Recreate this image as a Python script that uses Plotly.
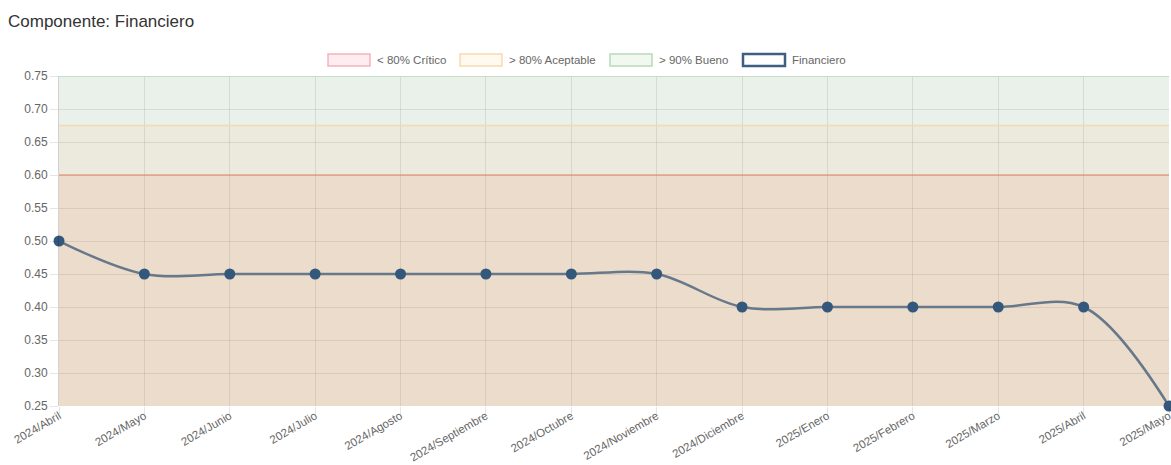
import plotly.graph_objects as go

categories = ["2024/Abril", "2024/Mayo", "2024/Junio", "2024/Julio", "2024/Agosto",
              "2024/Septiembre", "2024/Octubre", "2024/Noviembre", "2024/Diciembre",
              "2025/Enero", "2025/Febrero", "2025/Marzo", "2025/Abril", "2025/Mayo"]
financiero = [0.50, 0.45, 0.45, 0.45, 0.45, 0.45, 0.45, 0.45, 0.40, 0.40, 0.40, 0.40, 0.40, 0.25]
critico = [0.60] * len(categories)
aceptable = [0.675] * len(categories)
bueno = [0.75] * len(categories)
y_ticks = [0.25, 0.30, 0.35, 0.40, 0.45, 0.50, 0.55, 0.60, 0.65, 0.70, 0.75]

W, H = 1171, 465
L, R, T, B = 59, 2, 76, 465 - 406
FONT = "Liberation Sans, Arial, sans-serif"

fig = go.Figure()
fig.add_trace(go.Scatter(x=categories, y=critico, mode="lines", fill="tozeroy",
                         fillcolor="rgba(192,138,82,0.30)",
                         line=dict(color="rgba(225,140,115,0.75)", width=1.5),
                         showlegend=False, hoverinfo="skip"))
fig.add_trace(go.Scatter(x=categories, y=aceptable, mode="lines", fill="tonexty",
                         fillcolor="rgba(175,171,115,0.25)",
                         line=dict(color="rgba(245,215,170,0.9)", width=1.5),
                         showlegend=False, hoverinfo="skip"))
fig.add_trace(go.Scatter(x=categories, y=bueno, mode="lines", fill="tonexty",
                         fillcolor="rgba(150,185,150,0.20)",
                         line=dict(color="rgba(180,215,180,0.9)", width=1.5),
                         showlegend=False, hoverinfo="skip"))
fig.add_trace(go.Scatter(x=categories, y=financiero, mode="lines+markers",
                         line=dict(color="#66788a", width=2.5, shape="spline", smoothing=1.0),
                         marker=dict(color="#34587c", size=11),
                         cliponaxis=False, showlegend=False))

def px(x):
    return (x - L) / (W - L - R)

def py(y):
    return 1 - (y - T) / (H - T - B)

legend_items = [
    (328, "< 80% Crítico", "rgba(255,99,132,0.12)", "rgba(240,150,160,0.7)", 1.5),
    (460, "> 80% Aceptable", "rgba(255,205,130,0.12)", "rgba(245,215,170,0.9)", 1.5),
    (610, "> 90% Bueno", "rgba(130,200,130,0.12)", "rgba(175,215,175,0.9)", 1.5),
    (743, "Financiero", "#ffffff", "#3e5f82", 2.5),
]
shapes = []
annotations = []
for x0, label, fc, lc, lw in legend_items:
    shapes.append(dict(type="rect", xref="paper", yref="paper",
                       x0=px(x0), x1=px(x0 + 42), y0=py(66), y1=py(54),
                       fillcolor=fc, line=dict(color=lc, width=lw), layer="above"))
    annotations.append(dict(xref="paper", yref="paper", x=px(x0 + 47), y=py(60),
                            xanchor="left", yanchor="middle", text=label, showarrow=False,
                            font=dict(family=FONT, size=11.5, color="#666666")))

fig.update_layout(
    width=W, height=H,
    margin=dict(l=L, r=R, t=T, b=B, autoexpand=False),
    paper_bgcolor="white", plot_bgcolor="white",
    title=dict(text="Componente: Financiero", xref="container", yref="container",
               x=8 / W, y=1 - 21 / H, xanchor="left", yanchor="middle",
               font=dict(family=FONT, size=17, color="#333333")),
    shapes=shapes, annotations=annotations,
    showlegend=False,
    xaxis=dict(type="category", range=[0, len(categories) - 1], automargin=False,
               showgrid=True, gridcolor="rgba(0,0,0,0.10)", gridwidth=1,
               ticks="outside", ticklen=7, tickcolor="rgba(0,0,0,0.10)",
               ticklabelstandoff=-9,
               tickangle=-30, tickfont=dict(family=FONT, size=11.5, color="#666666"),
               showline=False, zeroline=False),
    yaxis=dict(range=[0.25, 0.75], tickvals=y_ticks, tickformat=".2f", automargin=False,
               showgrid=True, gridcolor="rgba(0,0,0,0.10)", gridwidth=1,
               ticks="outside", ticklen=8, tickcolor="rgba(0,0,0,0.10)",
               tickfont=dict(family=FONT, size=12, color="#666666"),
               showline=True, linecolor="rgba(0,0,0,0.18)", linewidth=1,
               zeroline=False),
)

fig.write_html("out.html", config={"displayModeBar": False},
               post_script="document.body.style.margin='0';document.body.style.overflow='hidden';")
